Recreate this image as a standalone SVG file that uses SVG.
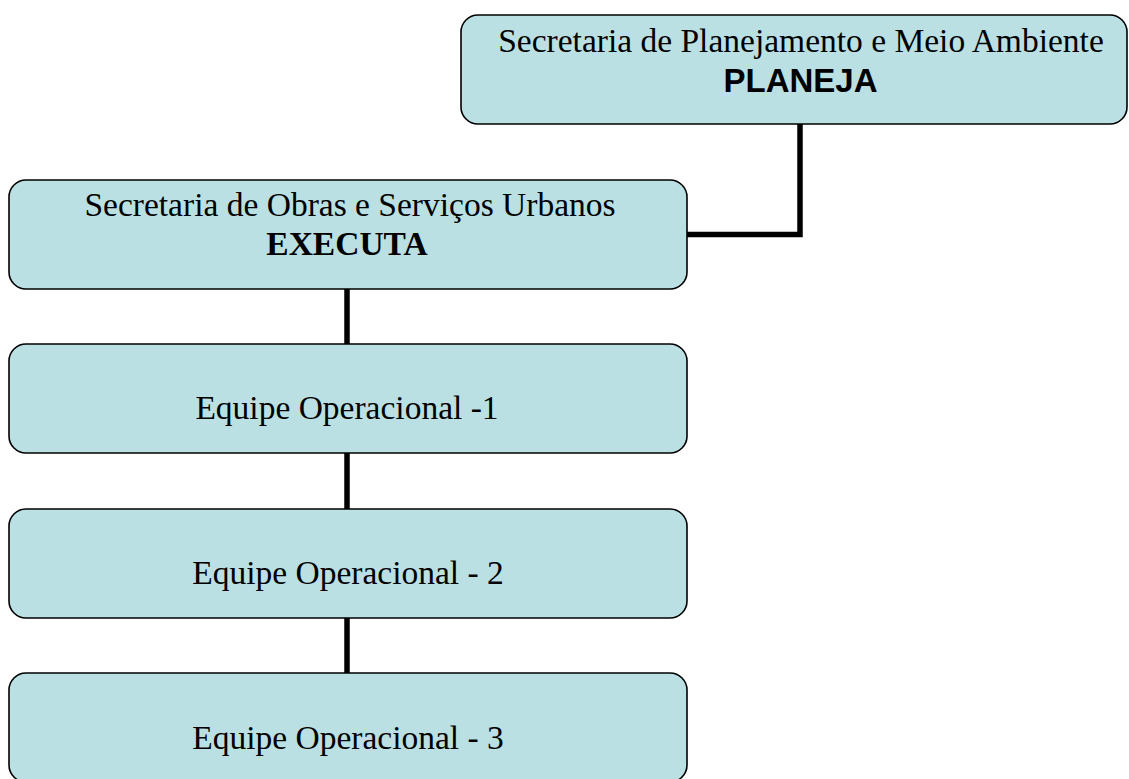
<svg xmlns="http://www.w3.org/2000/svg" width="1129" height="779" viewBox="0 0 1129 779">
<style>
.box{fill:#bae0e3;stroke:#000;stroke-width:1.6}
.t{font-family:"Liberation Serif","Times New Roman",serif;font-size:33.5px;fill:#000;text-anchor:middle}
.b{font-weight:bold}
.a{font-family:"Liberation Sans",Arial,sans-serif;font-size:33px;font-weight:bold;fill:#000;text-anchor:middle}
.c{fill:none;stroke:#000;stroke-width:5.5}
</style>
<rect width="1129" height="779" fill="#fff"/>
<g id="connectors">
<polyline class="c" points="800,124 800,234.5 687,234.5"/>
<line class="c" x1="347" y1="289" x2="347" y2="344"/>
<line class="c" x1="347" y1="453" x2="347" y2="509"/>
<line class="c" x1="347" y1="618" x2="347" y2="673"/>
</g>
<g id="planeja">
<rect class="box" x="461" y="15" width="666" height="109" rx="17"/>
<text class="t" x="801" y="52">Secretaria de Planejamento e Meio Ambiente</text>
<text class="a" x="800.5" y="92">PLANEJA</text>
</g>
<g id="executa">
<rect class="box" x="9" y="180" width="678" height="109" rx="17"/>
<text class="t" x="350" y="215.5">Secretaria de Obras e Serviços Urbanos</text>
<text class="t b" x="347" y="255">EXECUTA</text>
</g>
<g id="equipe1">
<rect class="box" x="9" y="344" width="678" height="109" rx="17"/>
<text class="t" x="347" y="419">Equipe Operacional -1</text>
</g>
<g id="equipe2">
<rect class="box" x="9" y="509" width="678" height="109" rx="17"/>
<text class="t" x="348" y="584">Equipe Operacional - 2</text>
</g>
<g id="equipe3">
<rect class="box" x="9" y="673" width="678" height="109" rx="17"/>
<text class="t" x="348" y="749">Equipe Operacional - 3</text>
</g>
</svg>
